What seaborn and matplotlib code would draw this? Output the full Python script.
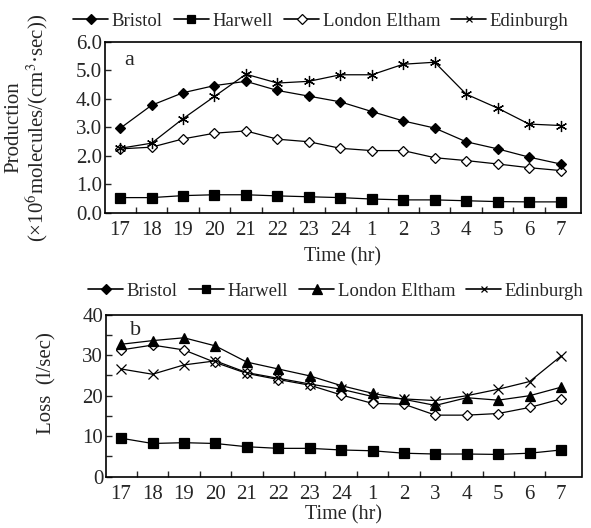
import matplotlib
matplotlib.use("Agg")
import matplotlib.pyplot as plt
import seaborn as sns
import pandas as pd
import numpy as np
from matplotlib.lines import Line2D
from matplotlib.ticker import FixedLocator, FuncFormatter

hours = ["17", "18", "19", "20", "21", "22", "23", "24", "1", "2", "3", "4", "5", "6", "7"]

# Panel a: production
prod_bristol = [2.97, 3.78, 4.22, 4.47, 4.62, 4.30, 4.10, 3.90, 3.56, 3.23, 2.98, 2.50, 2.25, 1.96, 1.72]
prod_harwell = [0.54, 0.54, 0.61, 0.64, 0.64, 0.60, 0.57, 0.54, 0.49, 0.46, 0.46, 0.43, 0.40, 0.39, 0.39]
prod_london = [2.25, 2.31, 2.60, 2.80, 2.88, 2.59, 2.50, 2.27, 2.19, 2.19, 1.94, 1.84, 1.72, 1.59, 1.49]
prod_edinburgh = [2.27, 2.45, 3.31, 4.09, 4.87, 4.56, 4.62, 4.85, 4.85, 5.22, 5.29, 4.17, 3.68, 3.12, 3.07]

# Panel b: loss
loss_bristol = [31.3, 32.5, 31.3, 28.2, 25.5, 24.0, 22.6, 20.2, 18.1, 17.9, 15.2, 15.2, 15.6, 17.1, 19.2]
loss_harwell = [9.5, 8.2, 8.4, 8.2, 7.4, 7.0, 7.0, 6.6, 6.4, 5.8, 5.6, 5.6, 5.5, 5.8, 6.6]
loss_london = [32.7, 33.6, 34.3, 32.3, 28.3, 26.6, 24.9, 22.5, 20.6, 19.1, 17.6, 19.5, 18.9, 20.0, 22.1]
loss_edinburgh = [26.6, 25.3, 27.6, 28.6, 25.7, 24.3, 22.9, 21.6, 19.8, 19.2, 18.8, 20.0, 21.6, 23.5, 29.8]

series_names = ["Bristol", "Harwell", "London Eltham", "Edinburgh"]

sns.set_style("ticks")
plt.rcParams["font.family"] = ["Liberation Serif", "DejaVu Serif"]
plt.rcParams["mathtext.fontset"] = "stix"

fig = plt.figure(figsize=(5.91, 5.28), dpi=100)
ax_a = fig.add_axes([105 / 591, 1 - 213 / 528, 476 / 591, 171 / 528])
ax_b = fig.add_axes([106 / 591, 1 - 476.7 / 528, 475.5 / 591, 162 / 528])

pos = np.arange(len(hours))
lw = 0.9

def draw(ax, y, marker, ms, mfc, mew=0.9):
    sns.lineplot(x=pos, y=y, ax=ax, color="black", lw=lw, marker=marker,
                 markersize=ms, markerfacecolor=mfc, markeredgecolor="black",
                 markeredgewidth=mew, legend=False)

asterisk = (6, 2, 0)
draw(ax_a, prod_harwell, "s", 6.5, "black")
draw(ax_a, prod_london, "D", 5.5, "white")
draw(ax_a, prod_bristol, "D", 5.5, "black")
draw(ax_a, prod_edinburgh, asterisk, 8, "none", 0.9)

draw(ax_b, loss_harwell, "s", 6.5, "black")
draw(ax_b, loss_bristol, "D", 5.5, "white")
draw(ax_b, loss_edinburgh, "x", 6.5, "none", 0.9)
draw(ax_b, loss_london, "^", 7, "black")

fs = 15
for ax in (ax_a, ax_b):
    ax.set_xlim(-0.48, 14.65)
    ax.set_xticks(pos)
    ax.set_xticklabels(hours, fontsize=fs)
    ax.xaxis.set_minor_locator(FixedLocator(pos[:-1] + 0.5))
    ax.tick_params(axis="x", which="major", length=0, pad=6)
    ax.tick_params(axis="x", which="minor", direction="in", length=4, width=1)
    ax.tick_params(axis="y", which="major", direction="in", length=4, width=1, labelsize=fs, pad=2)
    for s in ax.spines.values():
        s.set_linewidth(1.2)
        s.set_color("black")

ax_a.set_xlabel("Time (hr)", fontsize=14.5, labelpad=5)
ax_b.set_xlabel("Time (hr)", fontsize=14.5, labelpad=1)

ax_a.set_ylim(0, 6)
ax_a.set_yticks(np.arange(0, 7, 1))
ax_a.yaxis.set_major_formatter(FuncFormatter(lambda v, p: f"{v:.1f}"))
ax_a.set_ylabel("Production\n(×10$^{6}$molecules/(cm$^{3}$·sec))", fontsize=15,
                linespacing=1.0)
ax_a.yaxis.set_label_coords(-0.115, 0.5)
ax_a.text(0.04, 0.95, "a", transform=ax_a.transAxes, fontsize=16, va="top")

ax_b.set_ylim(0, 40)
ax_b.set_yticks(np.arange(0, 41, 5))
ax_b.yaxis.set_major_formatter(FuncFormatter(lambda v, p: f"{int(v)}" if v % 10 == 0 else ""))
ax_b.set_ylabel("Loss  (l/sec)", fontsize=15)
ax_b.yaxis.set_label_coords(-0.105, 0.58)
ax_b.text(0.05, 0.96, "b", transform=ax_b.transAxes, fontsize=16, va="top")

def handles(markers):
    return [Line2D([], [], color="black", lw=1.2, marker=m, markersize=s,
                   markerfacecolor=f, markeredgecolor="black", markeredgewidth=0.9)
            for m, s, f in markers]

ha = handles([("D", 5, "black"), ("s", 6, "black"), ("D", 5, "white"), ("x", 4.5, "none")])
hb = handles([("D", 5, "black"), ("s", 6, "black"), ("^", 6.5, "black"), ("x", 4.5, "none")])

leg_kw = dict(ncol=4, frameon=False, fontsize=13.5, handlelength=1.85,
              handletextpad=0.2, columnspacing=0.6, borderpad=0)
fig.legend(ha, series_names, loc="center", bbox_to_anchor=(321 / 591, 1 - 21 / 528), **leg_kw)
fig.legend(hb, series_names, loc="center", bbox_to_anchor=(336 / 591, 1 - 291 / 528), **leg_kw)

fig.savefig("out.png", dpi=100)
